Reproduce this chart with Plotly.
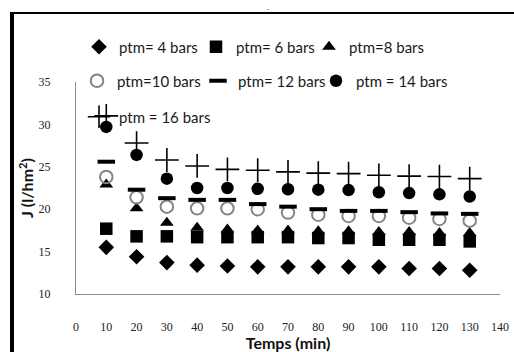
import plotly.graph_objects as go

# Permeate flux J (l/hm²) versus filtration time for each transmembrane pressure
temps = [10, 20, 30, 40, 50, 60, 70, 80, 90, 100, 110, 120, 130]

j_4bars = [15.5, 14.4, 13.7, 13.4, 13.3, 13.2, 13.2, 13.2, 13.2, 13.2, 13.0, 13.0, 12.8]
j_6bars = [17.7, 16.8, 16.8, 16.7, 16.7, 16.7, 16.7, 16.6, 16.6, 16.4, 16.4, 16.4, 16.2]
j_8bars = [22.9, 20.1, 18.4, 17.8, 17.6, 17.5, 17.5, 17.4, 17.4, 17.3, 17.3, 17.2, 17.2]
j_10bars = [23.8, 21.4, 20.3, 20.1, 20.1, 20.0, 19.6, 19.35, 19.2, 19.2, 19.0, 18.85, 18.65]
j_12bars = [25.6, 22.3, 21.3, 21.1, 21.1, 20.6, 20.3, 20.0, 19.8, 19.8, 19.65, 19.5, 19.45]
j_14bars = [29.7, 26.4, 23.6, 22.5, 22.5, 22.4, 22.35, 22.3, 22.25, 22.0, 21.9, 21.75, 21.5]
j_16bars = [31.0, 27.8, 25.8, 25.1, 24.7, 24.6, 24.4, 24.25, 24.2, 24.0, 23.9, 23.85, 23.6]

series_names = ["ptm= 4 bars", "ptm= 6 bars", "ptm=8 bars",
                "ptm=10 bars", "ptm= 12 bars", "ptm = 14 bars",
                "ptm = 16 bars"]

x_ticks = list(range(0, 141, 10))
y_ticks = [10, 15, 20, 25, 30, 35]

W, H = 514, 352
ML, MR, MT, MB = 76, 14, 82, 58
PW, PH = W - ML - MR, H - MT - MB


def px_x(px):
    return (px - ML) / PW


def px_y(py):
    return (H - MB - py) / PH


styles = [
    dict(symbol="diamond", size=12, color="black"),
    dict(symbol="square", size=12.5, color="black"),
    dict(symbol="triangle-up", size=12, color="black"),
    dict(symbol="circle-open", size=12.5, color="#858585", line=dict(width=2, color="#858585")),
    dict(symbol="line-ew", size=12.5, color="black", line=dict(width=4, color="black")),
    dict(symbol="circle", size=12.5, color="black"),
    dict(symbol="cross-thin", size=17, color="black", line=dict(width=1.6, color="black")),
]
series = [j_4bars, j_6bars, j_8bars, j_10bars, j_12bars, j_14bars, j_16bars]

# one small legend box per key: (left edge px, vertical centre px)
legend_ids = ["legend", "legend2", "legend3", "legend4", "legend5", "legend6", "legend7"]
legend_pos = [(79, 47), (196, 47), (309, 47),
              (77, 81), (198, 81), (316, 81),
              (79, 117)]

fig = go.Figure()
for name, vals, st, lg in zip(series_names, series, styles, legend_ids):
    fig.add_trace(go.Scatter(x=temps, y=vals, mode="markers", name=name,
                             marker=st, legend=lg, cliponaxis=False))

tick_font = dict(family="Liberation Serif", size=12, color="#222222")
title_font = dict(family="Lato", size=16, color="#111111", weight="bold")
legend_font = dict(family="Lato", size=15, color="#1a1a1a")

legends = {}
for lg, (lx, ly) in zip(legend_ids, legend_pos):
    legends[lg] = dict(x=px_x(lx), y=px_y(ly), xanchor="left", yanchor="middle",
                       orientation="h", bgcolor="rgba(0,0,0,0)", borderwidth=0,
                       font=legend_font, itemclick=False, itemdoubleclick=False)

fig.update_layout(
    width=W, height=H,
    margin=dict(l=ML, r=MR, t=MT, b=MB, autoexpand=False),
    paper_bgcolor="white", plot_bgcolor="white",
    showlegend=True,
    **legends,
    xaxis=dict(range=[0, 140], tickvals=x_ticks, ticktext=[str(v) for v in x_ticks],
               showgrid=False, zeroline=False, showline=True, linecolor="#8c8c8c",
               linewidth=1, ticks="", tickfont=tick_font, ticklabelstandoff=22,
               automargin=False,
               title=dict(text="Temps (min)", font=title_font, standoff=0)),
    yaxis=dict(range=[10, 35], tickvals=y_ticks, ticktext=[str(v) for v in y_ticks],
               showgrid=False, zeroline=False, showline=True, linecolor="#8c8c8c",
               linewidth=1, ticks="", tickfont=tick_font, ticklabelstandoff=22,
               automargin=False,
               title=dict(text="J (l/hm<sup>2</sup>)", font=title_font, standoff=0)),
    shapes=[
        dict(type="line", xref="paper", yref="paper", x0=px_x(12), x1=px_x(12),
             y0=px_y(12), y1=px_y(360), line=dict(color="black", width=4)),
        dict(type="line", xref="paper", yref="paper", x0=px_x(10), x1=px_x(520),
             y0=px_y(13), y1=px_y(13), line=dict(color="black", width=2)),
    ],
    annotations=[
        dict(text=".", xref="paper", yref="paper", x=px_x(268), y=px_y(0),
             showarrow=False, font=dict(family="Lato", size=8, color="black"),
             xanchor="center", yanchor="top"),
    ],
)

fig.write_html("out.html")
